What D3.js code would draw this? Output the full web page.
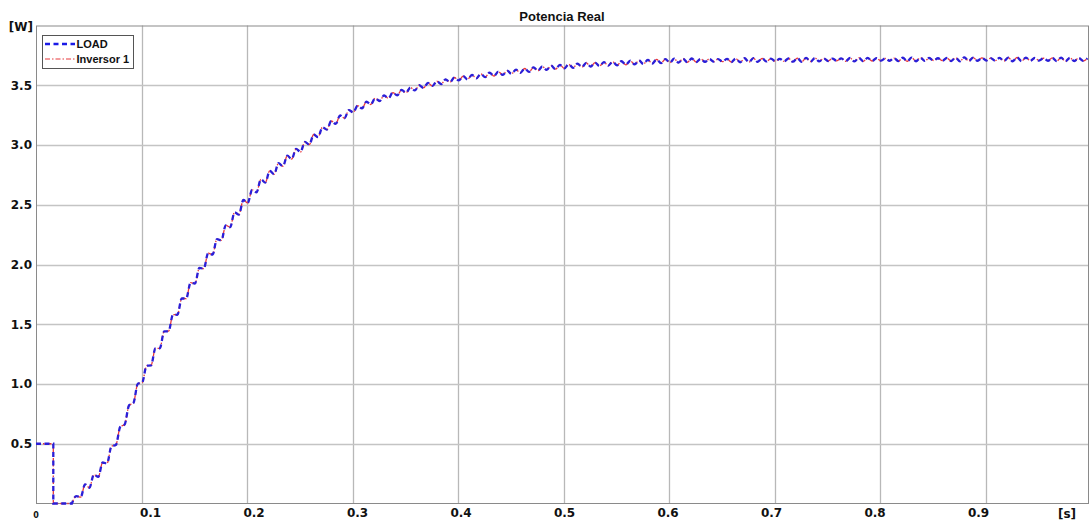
<!DOCTYPE html>
<html>
<head>
<meta charset="utf-8">
<script src="https://cdn.jsdelivr.net/npm/d3@7"></script>
<style>
  html, body { margin: 0; padding: 0; background: #ffffff; }
  svg { display: block; }
</style>
</head>
<body>
<script>
// ---------------- DATA ----------------
const title = "Potencia Real";
const yUnit = "[W]";
const xUnit = "[s]";
const xTickValues = [0.1, 0.2, 0.3, 0.4, 0.5, 0.6, 0.7, 0.8, 0.9];
const yTickValues = [0.5, 1.0, 1.5, 2.0, 2.5, 3.0, 3.5];
const seriesNames = ["LOAD", "Inversor 1"];

// initial step (time [s], power [W])
const stepTime  = [0, 0.0164, 0.0164];
const stepPower = [0.5, 0.5, 0.0];

// rippled response, sampled at ripple peaks/troughs (every 1/240 s from 0.034 s)
const rippleStart = 0.034;
const rippleStep = 1 / 240;
const loadPower = [
  0.000, 0.062, 0.053, 0.160, 0.132, 0.243, 0.222, 0.343, 0.335, 0.479,
  0.489, 0.641, 0.661, 0.821, 0.841, 1.002, 1.012, 1.153, 1.155, 1.298,
  1.299, 1.440, 1.442, 1.581, 1.579, 1.717, 1.714, 1.848, 1.841, 1.972,
  1.965, 2.095, 2.083, 2.213, 2.202, 2.328, 2.312, 2.436, 2.418, 2.540,
  2.515, 2.625, 2.604, 2.713, 2.686, 2.783, 2.755, 2.848, 2.822, 2.911,
  2.882, 2.968, 2.942, 3.026, 3.003, 3.088, 3.066, 3.149, 3.129, 3.201,
  3.176, 3.247, 3.224, 3.292, 3.273, 3.329, 3.306, 3.363, 3.339, 3.392,
  3.368, 3.415, 3.391, 3.439, 3.415, 3.461, 3.437, 3.481, 3.457, 3.500,
  3.478, 3.519, 3.494, 3.534, 3.510, 3.549, 3.525, 3.565, 3.540, 3.576,
  3.549, 3.586, 3.558, 3.595, 3.568, 3.605, 3.577, 3.614, 3.586, 3.623,
  3.595, 3.631, 3.604, 3.640, 3.612, 3.649, 3.621, 3.657, 3.629, 3.664,
  3.635, 3.670, 3.641, 3.676, 3.646, 3.681, 3.652, 3.687, 3.656, 3.690,
  3.660, 3.694, 3.664, 3.697, 3.667, 3.701, 3.671, 3.705, 3.674, 3.708,
  3.678, 3.712, 3.682, 3.716, 3.685, 3.719, 3.689, 3.722, 3.690, 3.723,
  3.692, 3.724, 3.694, 3.722, 3.696, 3.720, 3.698, 3.719, 3.697, 3.721,
  3.694, 3.724, 3.692, 3.726, 3.693, 3.727, 3.696, 3.725, 3.699, 3.722,
  3.701, 3.721, 3.700, 3.724, 3.697, 3.727, 3.696, 3.729, 3.697, 3.728,
  3.700, 3.725, 3.703, 3.723, 3.704, 3.725, 3.701, 3.728, 3.699, 3.730,
  3.700, 3.729, 3.703, 3.726, 3.706, 3.724, 3.705, 3.727, 3.702, 3.730,
  3.700, 3.732, 3.701, 3.731, 3.704, 3.728, 3.707, 3.726, 3.706, 3.728,
  3.703, 3.731, 3.701, 3.733, 3.702, 3.732, 3.705, 3.729, 3.707, 3.727,
  3.706, 3.729, 3.703, 3.732, 3.701, 3.733, 3.702, 3.731, 3.705, 3.728,
  3.707, 3.726, 3.705, 3.729, 3.702, 3.731, 3.700, 3.730, 3.702, 3.728,
  3.704, 3.726
];
// inverter output overlaps the load curve in the plot
const inversorPower = loadPower.slice();

// ---------------- LAYOUT ----------------
const W = 1089, H = 524;
const plot = { left: 36, right: 1088, top: 25.5, bottom: 503.5 };

const svg = d3.select("body").append("svg")
  .attr("width", W).attr("height", H)
  .style("font-family", "'Liberation Sans', Arial, sans-serif");

const x = d3.scaleLinear().domain([0, 0.997]).range([plot.left, plot.right]);
const y = d3.scaleLinear().domain([0, 4]).range([plot.bottom, plot.top]);
// tick labels in the figure sit on a slightly different spacing than the grid
const xLabel = d3.scaleLinear().domain([0.1, 0.9]).range([150, 978]);

// grid
const grid = svg.append("g");
grid.selectAll("line.v").data(xTickValues).join("line")
  .attr("x1", d => Math.round(x(d)) + 0.5).attr("x2", d => Math.round(x(d)) + 0.5)
  .attr("y1", plot.top).attr("y2", plot.bottom)
  .attr("stroke", "#b8b8b8").attr("stroke-width", 1.3);
grid.selectAll("line.h").data(yTickValues).join("line")
  .attr("x1", plot.left).attr("x2", plot.right)
  .attr("y1", d => Math.round(y(d)) + 0.5).attr("y2", d => Math.round(y(d)) + 0.5)
  .attr("stroke", "#c4c4c4").attr("stroke-width", 1.6);

// frame
svg.append("rect")
  .attr("x", plot.left + 0.5).attr("y", plot.top + 0.5)
  .attr("width", plot.right - plot.left).attr("height", plot.bottom - plot.top - 0.5)
  .attr("fill", "none").attr("stroke", "#8a8a8a").attr("stroke-width", 1);

// axes
const yAxis = d3.axisLeft(y).tickValues(yTickValues)
  .tickFormat(d3.format(".1f")).tickSize(0).tickPadding(4);
const gy = svg.append("g").attr("transform", `translate(${plot.left},0)`).call(yAxis);
gy.select(".domain").remove();
gy.selectAll("text")
  .style("font-family", "'DejaVu Sans', Verdana, sans-serif")
  .style("font-size", "12px").style("font-weight", "bold").attr("fill", "#111");

const xAxis = d3.axisBottom(xLabel).tickValues(xTickValues)
  .tickFormat(d3.format(".1f")).tickSize(0).tickPadding(5);
const gx = svg.append("g").attr("transform", `translate(0,${plot.bottom})`).call(xAxis);
gx.select(".domain").remove();
gx.selectAll("text")
  .style("font-family", "'DejaVu Sans', Verdana, sans-serif")
  .style("font-size", "12px").style("font-weight", "bold").attr("fill", "#111");

svg.append("text").attr("x", x(0)).attr("y", 518)
  .attr("text-anchor", "middle")
  .style("font-family", "'DejaVu Sans', Verdana, sans-serif")
  .style("font-size", "8px").style("font-weight", "bold").attr("fill", "#111")
  .text("0");
svg.append("text").attr("x", 1067).attr("y", 518)
  .attr("text-anchor", "middle")
  .style("font-family", "'DejaVu Sans', Verdana, sans-serif")
  .style("font-size", "12px").style("font-weight", "bold").attr("fill", "#111")
  .text(xUnit);
svg.append("text").attr("x", 33).attr("y", 31)
  .attr("text-anchor", "end")
  .style("font-family", "'DejaVu Sans', Verdana, sans-serif")
  .style("font-size", "12px").style("font-weight", "bold").attr("fill", "#111")
  .text(yUnit);

// title
svg.append("text").attr("x", (plot.left + plot.right) / 2).attr("y", 21)
  .attr("text-anchor", "middle")
  .style("font-size", "13px").style("font-weight", "bold").attr("fill", "#111")
  .text(title);

// ---------------- LINES ----------------
function buildPath(values) {
  const stepPts = stepTime.map((t, i) => [t, stepPower[i]]);
  const ripPts = values.map((v, i) => [rippleStart + i * rippleStep, v]);
  const lin = d3.line().x(d => x(d[0])).y(d => y(d[1])).curve(d3.curveLinear);
  const smooth = d3.line().x(d => x(d[0])).y(d => y(d[1])).curve(d3.curveMonotoneX);
  return lin(stepPts) + smooth(ripPts).replace(/^M/, "L");
}

const clip = svg.append("clipPath").attr("id", "clip").append("rect")
  .attr("x", plot.left).attr("y", plot.top)
  .attr("width", plot.right - plot.left).attr("height", plot.bottom - plot.top + 2);

const lines = svg.append("g").attr("clip-path", "url(#clip)");
lines.append("path").attr("d", buildPath(inversorPower))
  .attr("fill", "none").attr("stroke", "#e8383c").attr("stroke-width", 1.3)
  .attr("stroke-dasharray", "5,2,1.5,2");
lines.append("path").attr("d", buildPath(loadPower))
  .attr("fill", "none").attr("stroke", "#2a1fd8").attr("stroke-width", 2.3)
  .attr("stroke-dasharray", "5,3.5");

// ---------------- LEGEND ----------------
const lg = svg.append("g");
lg.append("rect").attr("x", 42.5).attr("y", 35.5).attr("width", 91).attr("height", 33)
  .attr("fill", "#fff").attr("stroke", "#555").attr("stroke-width", 1);
const legendItems = [
  { name: seriesNames[0], color: "#1a1ae6", width: 2.3, dash: "5,3.5", y: 44 },
  { name: seriesNames[1], color: "#e8383c", width: 1.2, dash: "5,2,1.5,2", y: 59 }
];
legendItems.forEach(d => {
  lg.append("line").attr("x1", 45).attr("x2", 75).attr("y1", d.y).attr("y2", d.y)
    .attr("stroke", d.color).attr("stroke-width", d.width).attr("stroke-dasharray", d.dash);
  lg.append("text").attr("x", 76.5).attr("y", d.y + 4.3)
    .style("font-size", "11px").style("font-weight", "bold").attr("fill", "#111")
    .text(d.name);
});
</script>
</body>
</html>
